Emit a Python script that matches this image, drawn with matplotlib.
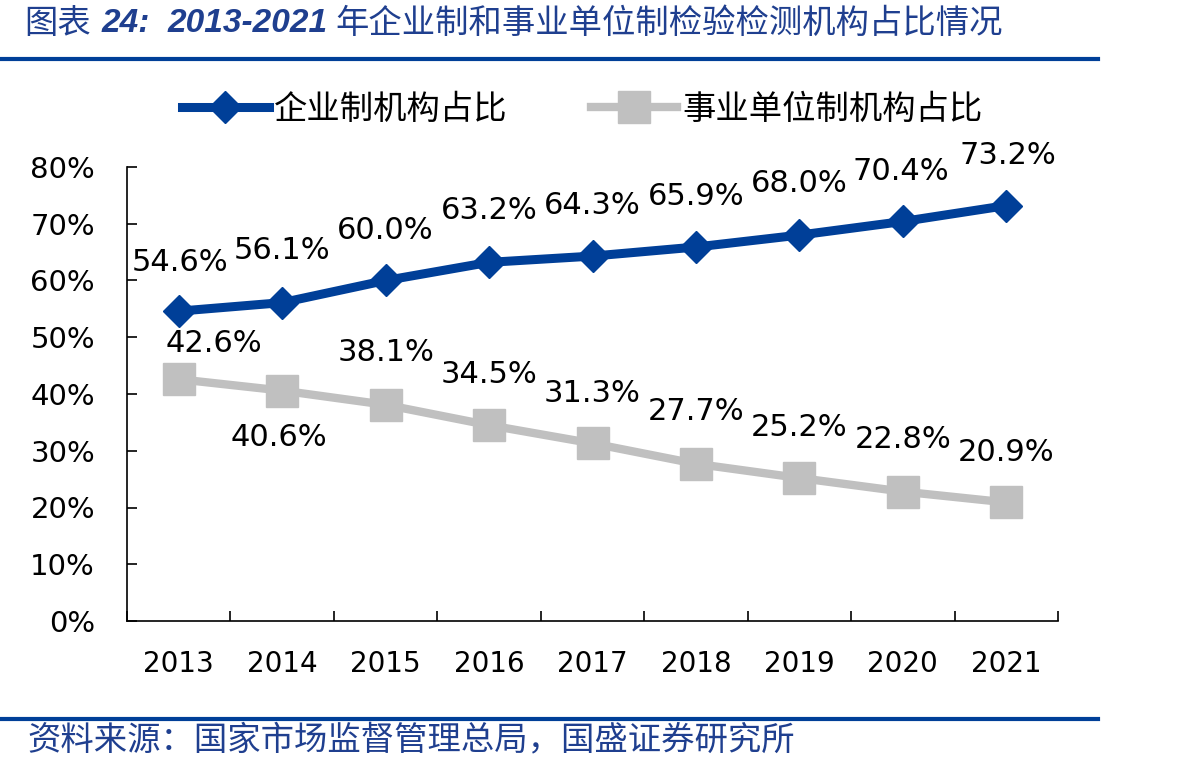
import matplotlib
matplotlib.use("Agg")
import matplotlib.pyplot as plt
from matplotlib.lines import Line2D

plt.rcParams['font.family'] = ['DejaVu Sans', 'Noto Sans CJK SC']

years = ['2013', '2014', '2015', '2016', '2017', '2018', '2019', '2020', '2021']
enterprise = [54.6, 56.1, 60.0, 63.2, 64.3, 65.9, 68.0, 70.4, 73.2]
institution = [42.6, 40.6, 38.1, 34.5, 31.3, 27.7, 25.2, 22.8, 20.9]
series_names = ['企业制机构占比', '事业单位制机构占比']
yticks = [0, 10, 20, 30, 40, 50, 60, 70, 80]

title_parts = ['图表', '24:', '2013-2021', '年企业制和事业单位制检验检测机构占比情况']
source = '资料来源：国家市场监督管理总局，国盛证券研究所'

BLUE = '#003f98'
GRAY = '#c0c0c0'
TXTBLUE = '#1f3f8f'

fig = plt.figure(figsize=(11.8, 7.72), dpi=100)
ax = fig.add_axes([127/1180, 1 - 621/772, (1058 - 127)/1180, (621 - 167)/772])

x = list(range(len(years)))
ax.plot(x, enterprise, color=BLUE, lw=6.5, marker='D', ms=16, mec=BLUE, mfc=BLUE,
        solid_capstyle='butt', zorder=3)
ax.plot(x, institution, color=GRAY, lw=6, marker='s', ms=23, mec=GRAY, mfc=GRAY,
        solid_capstyle='butt', zorder=3)

# label offsets in pixels (style)
ent_off = [(1, 49), (0, 52), (0, 50), (0, 52), (0, 51), (0, 51), (0, 52), (-2, 50), (2, 50)]
ins_off = [(35, 36), (-3, -47), (0, 52), (0, 51), (0, 50), (0, 52), (0, 50), (0, 52), (0, 50)]
for i, v in enumerate(enterprise):
    ax.annotate(f'{v:.1f}%', (i, v), xytext=ent_off[i], textcoords='offset pixels',
                ha='center', va='center', fontsize=22, color='black',
                family='DejaVu Sans')
for i, v in enumerate(institution):
    ax.annotate(f'{v:.1f}%', (i, v), xytext=ins_off[i], textcoords='offset pixels',
                ha='center', va='center', fontsize=22, color='black',
                family='DejaVu Sans')

ax.set_xlim(-0.5, len(years) - 0.5)
ax.set_ylim(0, 80)
ax.set_yticks(yticks)
ax.set_yticklabels([f'{t}%' for t in yticks])
ax.set_xticks(x)
ax.set_xticklabels(years)
ax.set_xticks([i - 0.5 for i in range(len(years) + 1)], minor=True)
ax.tick_params(axis='x', which='major', length=0, pad=21, labelsize=20)
ax.tick_params(axis='x', which='minor', length=7, direction='in', width=1.2)
ax.tick_params(axis='y', which='major', length=7, direction='in', width=1.2, pad=23, labelsize=21)
for s in ['top', 'right']:
    ax.spines[s].set_visible(False)
for s in ['left', 'bottom']:
    ax.spines[s].set_linewidth(1.2)

handles = [
    Line2D([], [], color=BLUE, lw=6.5, marker='D', ms=16, mec=BLUE, mfc=BLUE),
    Line2D([], [], color=GRAY, lw=6, marker='s', ms=23, mec=GRAY, mfc=GRAY),
]
leg = fig.legend(handles, series_names, loc='center left', bbox_to_anchor=(152/1180, 1 - 109/772),
                 ncol=2, frameon=False, handlelength=2.6, handletextpad=0.15,
                 columnspacing=2.5, prop={'family': ['Noto Sans CJK SC'], 'size': 24})

# title pieces (x positions in pixels are layout)
ty = 1 - 23/772
fig.text(24/1180, ty, title_parts[0], fontsize=24, color=TXTBLUE, ha='left', va='center',
         family=['Noto Sans CJK SC'])
fig.text(102/1180, ty, title_parts[1], fontsize=24, color=TXTBLUE, ha='left', va='center',
         family=['Liberation Sans'], weight='bold', style='italic')
fig.text(168/1180, ty, title_parts[2], fontsize=24, color=TXTBLUE, ha='left', va='center',
         family=['Liberation Sans'], weight='bold', style='italic')
fig.text(335/1180, ty, title_parts[3], fontsize=24, color=TXTBLUE, ha='left', va='center',
         family=['Noto Sans CJK SC'])
fig.text(27/1180, 1 - 741/772, source, fontsize=24, color=TXTBLUE, ha='left', va='center',
         family=['Noto Sans CJK SC', 'DejaVu Sans'])

fig.add_artist(Line2D([0, 1098/1180], [1 - 59/772, 1 - 59/772], color=BLUE, lw=3,
                      transform=fig.transFigure))
fig.add_artist(Line2D([0, 1098/1180], [1 - 719/772, 1 - 719/772], color=BLUE, lw=3,
                      transform=fig.transFigure))

fig.savefig('out.png', dpi=100)
